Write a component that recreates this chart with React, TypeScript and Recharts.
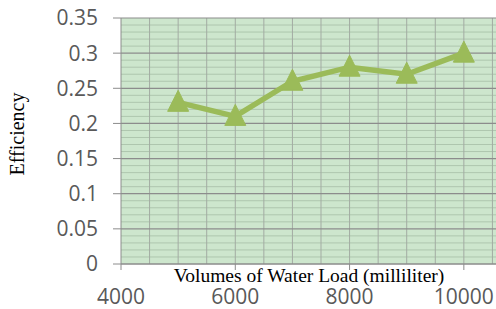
import React from 'react';
import { LineChart, Line, XAxis, YAxis, CartesianGrid, ReferenceLine } from 'recharts';

const volumes = [5000, 6000, 7000, 8000, 9000, 10000];
const efficiency = [0.23, 0.21, 0.26, 0.28, 0.27, 0.3];
const xTicks = [4000, 6000, 8000, 10000];
const yTicks = [0, 0.05, 0.1, 0.15, 0.2, 0.25, 0.3, 0.35];
const xGridValues = [4500, 5000, 5500, 6000, 6500, 7000, 7500, 8000, 8500, 9000, 9500, 10000, 10500, 11000];
const yMinorValues = [
  0.01, 0.02, 0.03, 0.04, 0.06, 0.07, 0.08, 0.09, 0.11, 0.12, 0.13, 0.14,
  0.16, 0.17, 0.18, 0.19, 0.21, 0.22, 0.23, 0.24, 0.26, 0.27, 0.28, 0.29,
  0.31, 0.32, 0.33, 0.34,
];

const data = volumes.map((v, i) => ({ volume: v, eff: efficiency[i] }));

const Triangle = (props: any) => {
  const { cx, cy } = props;
  if (cx == null || cy == null) return null;
  const p = `${cx},${cy - 12} ${cx - 10.5},${cy + 9} ${cx + 10.5},${cy + 9}`;
  return <polygon points={p} fill="#9bbb59" stroke="#9bbb59" strokeWidth={1} strokeLinejoin="round" />;
};

const tickFont = { fontFamily: '"Open Sans", sans-serif', fontSize: 21, fill: '#595959' };

export default function App() {
  return (
    <div style={{ position: 'absolute', left: 0, top: 0, width: 496, height: 309, overflow: 'hidden', background: '#fff' }}>
      <LineChart width={530} height={309} data={data} margin={{ top: 18, right: 9, bottom: 0, left: 0 }}>
        <CartesianGrid horizontal={false} vertical={false} fill="#cde6cd" fillOpacity={1} />
        {yMinorValues.map((v) => (
          <ReferenceLine key={'ym' + v} y={v} stroke="#aec6ae" strokeWidth={1} />
        ))}
        {xGridValues.map((v) => (
          <ReferenceLine key={'xg' + v} x={v} stroke="#a3aba3" strokeWidth={1} />
        ))}
        {yTicks.map((v) => (
          <ReferenceLine key={'yM' + v} y={v} stroke="#8c8c8c" strokeWidth={1.2} />
        ))}
        <XAxis
          dataKey="volume"
          type="number"
          domain={[4000, 11000]}
          ticks={xTicks}
          height={45}
          tickSize={6}
          tickMargin={19}
          axisLine={{ stroke: '#8c8c8c' }}
          tickLine={{ stroke: '#8c8c8c' }}
          tick={tickFont}
          label={{
            content: (p: any) => {
              const vb = p.viewBox;
              return (
                <text
                  x={vb.x + vb.width / 2 - 12}
                  y={vb.y + 18}
                  textAnchor="middle"
                  style={{ fontFamily: '"Liberation Serif", "Times New Roman", serif', fontSize: 19.5, fill: '#000' }}
                >
                  Volumes of Water Load (milliliter)
                </text>
              );
            },
          }}
        />
        <YAxis
          type="number"
          domain={[0, 0.35]}
          ticks={yTicks}
          width={121}
          tickSize={8}
          tickMargin={15}
          axisLine={{ stroke: '#8c8c8c' }}
          tickLine={{ stroke: '#8c8c8c' }}
          tick={tickFont}
          label={{
            content: (p: any) => {
              const vb = p.viewBox;
              const x = vb.x + 17;
              const y = vb.y + 116;
              return (
                <text
                  x={x}
                  y={y}
                  textAnchor="middle"
                  dominantBaseline="central"
                  transform={`rotate(-90, ${x}, ${y})`}
                  style={{ fontFamily: '"Liberation Serif", "Times New Roman", serif', fontSize: 20, fill: '#000' }}
                >
                  Efficiency
                </text>
              );
            },
          }}
        />
        <Line
          dataKey="eff"
          stroke="#9bbb59"
          strokeWidth={5.5}
          dot={<Triangle />}
          activeDot={false}
          isAnimationActive={false}
        />
      </LineChart>
    </div>
  );
}
